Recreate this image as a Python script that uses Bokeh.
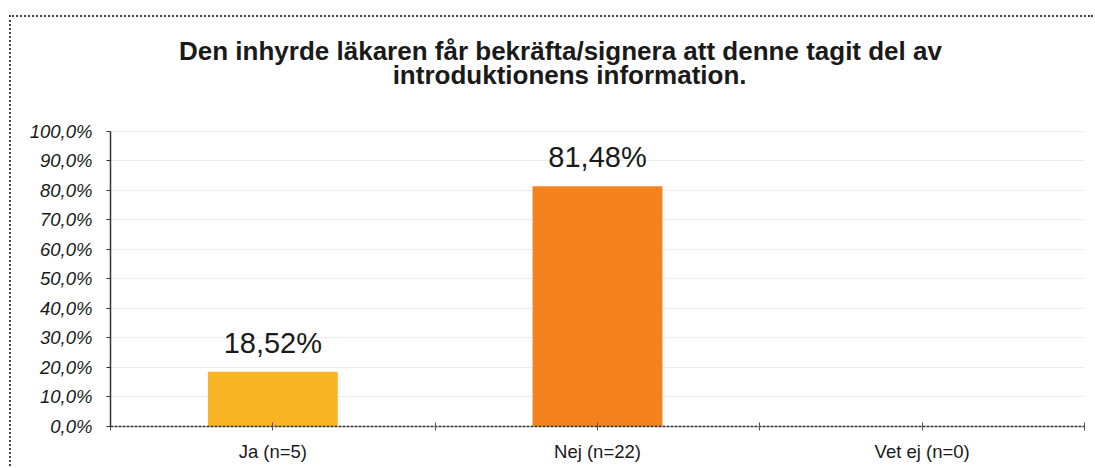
from bokeh.plotting import figure
from bokeh.models import Range1d, FixedTicker, Label
from bokeh.embed import file_html
from bokeh.resources import INLINE

categories = ["Ja (n=5)", "Nej (n=22)", "Vet ej (n=0)"]
values = [18.52, 81.48, 0.0]
value_labels = ["18,52%", "81,48%", ""]
bar_colors = ["#F9B526", "#F4821E", "#F4821E"]
y_ticks = [0, 10, 20, 30, 40, 50, 60, 70, 80, 90, 100]
y_tick_labels = ["0,0%", "10,0%", "20,0%", "30,0%", "40,0%", "50,0%",
                 "60,0%", "70,0%", "80,0%", "90,0%", "100,0%"]
title_lines = ["Den inhyrde läkaren får bekräfta/signera att denne tagit del av",
               "introduktionens information."]

n = len(categories)
centers = [i + 0.5 for i in range(n)]

# frame spans the whole canvas height above the axis; the top part holds the title
Y_TOP = 138.64
p = figure(width=1084, height=451, output_backend="svg", toolbar_location=None,
           x_range=Range1d(0, n), y_range=Range1d(0, Y_TOP),
           min_border_left=99, min_border_right=11, min_border_top=0,
           min_border_bottom=42, title=None)
p.margin = (15, 0, 0, 9)
p.styles = {"border-top": "2px dotted #444444", "border-left": "2px dotted #444444"}
p.outline_line_color = None
p.background_fill_color = "white"
p.border_fill_color = "white"

# bars
p.vbar(x=centers, top=values, width=0.4, color=bar_colors, line_color=None)

# value labels
for c, v, t in zip(centers, values, value_labels):
    if t:
        p.add_layout(Label(x=c, y=v, text=t, text_align="center",
                           text_baseline="alphabetic", y_offset=29,
                           text_font="Liberation Sans", text_font_size="29px",
                           text_color="#1a1a1a"))

# title (two lines)
title_x = [1.386, 1.414]
title_y = [127.2, 119.0]
for tx, ty, t in zip(title_x, title_y, title_lines):
    p.add_layout(Label(x=tx, y=ty, text=t, text_align="center",
                       text_baseline="alphabetic", text_font="Liberation Sans",
                       text_font_style="bold", text_font_size="26px",
                       text_color="#1a1a1a"))

# y axis
p.yaxis.bounds = (0, 100)
p.yaxis.ticker = FixedTicker(ticks=y_ticks)
p.yaxis.major_label_overrides = {t: l for t, l in zip(y_ticks, y_tick_labels)}
p.yaxis.major_label_text_font = "Liberation Sans"
p.yaxis.major_label_text_font_style = "italic"
p.yaxis.major_label_text_font_size = "18.5px"
p.yaxis.major_label_text_color = "#1a1a1a"
p.yaxis.axis_line_color = "#333333"
p.yaxis.axis_line_width = 1.5
p.yaxis.major_tick_line_color = "#333333"
p.yaxis.major_tick_out = 4
p.yaxis.major_tick_in = 0
p.yaxis.minor_tick_line_color = None
p.yaxis.major_label_standoff = 14

# x axis
x_ticks = sorted(set([float(i) for i in range(n + 1)] + centers))
overrides = {t: "" for t in x_ticks}
for c, name in zip(centers, categories):
    overrides[c] = name
p.xaxis.ticker = FixedTicker(ticks=x_ticks)
p.xaxis.major_label_overrides = overrides
p.xaxis.major_label_text_font = "Liberation Sans"
p.xaxis.major_label_text_font_size = "18.5px"
p.xaxis.major_label_text_color = "#1a1a1a"
p.xaxis.axis_line_color = "#333333"
p.xaxis.axis_line_width = 1.5
p.xaxis.axis_line_dash = "3 1"
p.xaxis.major_tick_line_color = "#555555"
p.xaxis.major_tick_out = 4
p.xaxis.major_tick_in = 4
p.xaxis.minor_tick_line_color = None
p.xaxis.major_label_standoff = 10

# grid
p.xgrid.grid_line_color = None
p.ygrid.ticker = FixedTicker(ticks=y_ticks)
p.ygrid.grid_line_color = "#eeeeee"
p.ygrid.grid_line_width = 1

open("out.html", "w").write(file_html(p, INLINE))
